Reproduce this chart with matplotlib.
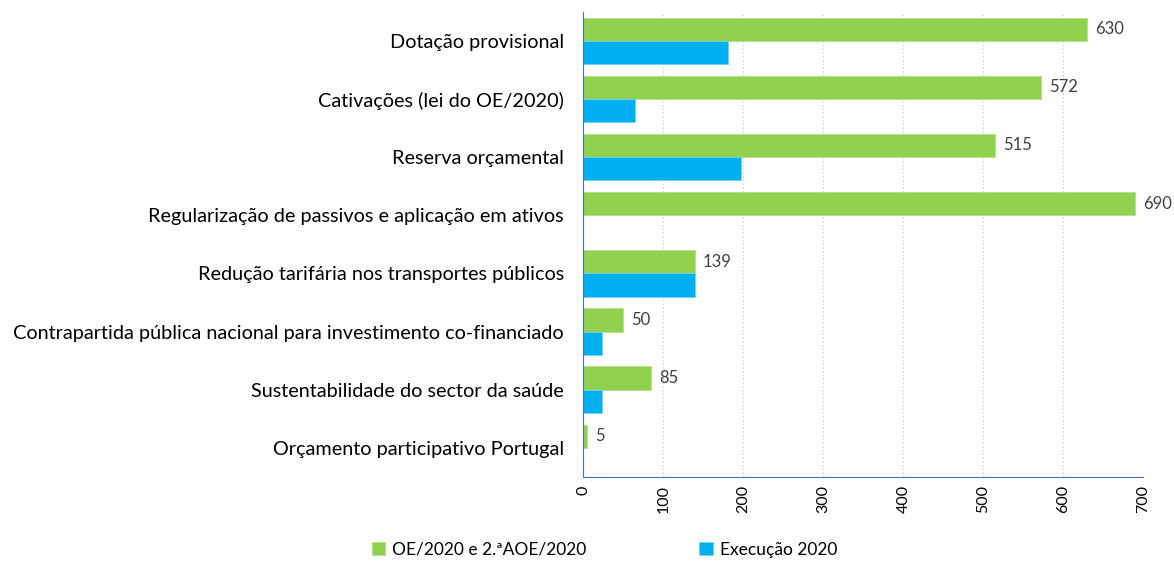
import numpy as np
import matplotlib.pyplot as plt

categories = [
    "Dotação provisional",
    "Cativações (lei do OE/2020)",
    "Reserva orçamental",
    "Regularização de passivos e aplicação em ativos",
    "Redução tarifária nos transportes públicos",
    "Contrapartida pública nacional para investimento co-financiado",
    "Sustentabilidade do sector da saúde",
    "Orçamento participativo Portugal",
]
orcamento = [630, 572, 515, 690, 139, 50, 85, 5]
execucao = [181, 65, 197, 0, 139, 23, 23, 0]
series_names = ["OE/2020 e 2.ªAOE/2020", "Execução 2020"]
xticks = [0, 100, 200, 300, 400, 500, 600, 700]

green = "#92D050"
blue = "#00B0F0"
plt.rcParams["font.family"] = ["Lato", "DejaVu Sans"]

fig = plt.figure(figsize=(11.74, 5.61), dpi=100)
ax = fig.add_axes([0.497, 0.15, 0.477, 0.829])

y = np.arange(len(categories))
h = 0.4
b1 = ax.barh(y - h / 2, orcamento, height=h, color=green, edgecolor="#b5e08a",
             linewidth=0.6, label=series_names[0])
b2 = ax.barh(y + h / 2, execucao, height=h, color=blue, edgecolor="#6fd3f7",
             linewidth=0.6, label=series_names[1])

for rect, v in zip(b1, orcamento):
    ax.text(v + 10, rect.get_y() + rect.get_height() / 2, str(v),
            va="center", ha="left", fontsize=12, color="#404040")

ax.set_ylim(len(categories) - 0.5, -0.5)
ax.set_xlim(0, 700)
ax.set_yticks(y)
ax.set_yticklabels(categories, fontsize=14.3, color="#000000")
ax.set_xticks(xticks)
ax.set_xticklabels([str(t) for t in xticks], rotation=90, fontsize=11.5)
ax.tick_params(axis="y", length=0, pad=14)
ax.tick_params(axis="x", length=0, pad=6)

ax.xaxis.grid(True, linestyle=(0, (1, 2)), color="#c8c8c8", linewidth=0.9)
ax.set_axisbelow(True)
for s in ["top", "right"]:
    ax.spines[s].set_visible(False)
ax.spines["left"].set_color("#4472C4")
ax.spines["bottom"].set_color("#4472C4")

handles, labels = ax.get_legend_handles_labels()
fig.legend(handles, labels, loc="lower center", bbox_to_anchor=(0.515, -0.022),
           ncol=2, frameon=False, fontsize=12.5, handlelength=0.8,
           handleheight=0.8, handletextpad=0.4, columnspacing=6.5)

fig.savefig("out.png", dpi=100)
